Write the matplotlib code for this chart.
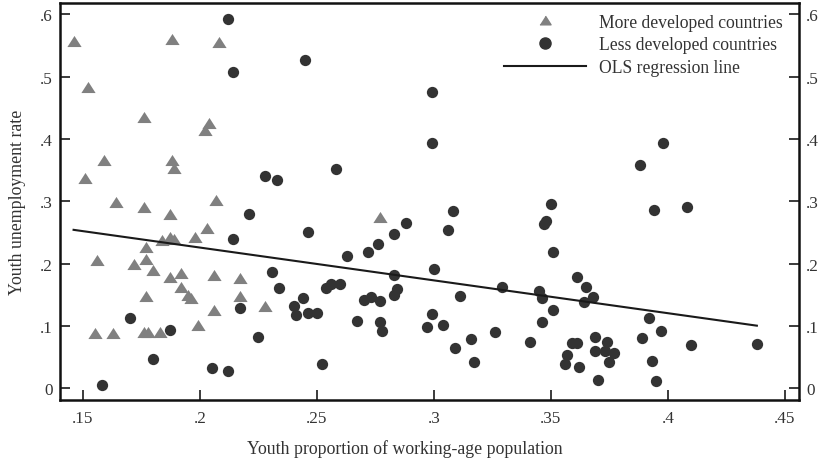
import numpy as np
import matplotlib.pyplot as plt
from matplotlib.lines import Line2D

# youth share of working-age population vs youth unemployment rate
dev_x = [0.146, 0.188, 0.152, 0.176, 0.204, 0.202, 0.159, 0.188, 0.189, 0.151,
         0.164, 0.176, 0.208, 0.207, 0.187, 0.184, 0.187, 0.189, 0.198, 0.203,
         0.177, 0.156, 0.172, 0.177, 0.180, 0.187, 0.192, 0.192, 0.195, 0.196,
         0.177, 0.206, 0.217, 0.217, 0.206, 0.228, 0.199, 0.155, 0.163, 0.176,
         0.178, 0.183, 0.277]
dev_y = [0.557, 0.561, 0.484, 0.436, 0.426, 0.415, 0.366, 0.366, 0.353, 0.338,
         0.298, 0.290, 0.555, 0.302, 0.279, 0.238, 0.243, 0.240, 0.243, 0.257,
         0.227, 0.205, 0.200, 0.208, 0.189, 0.179, 0.184, 0.162, 0.149, 0.144,
         0.148, 0.181, 0.176, 0.148, 0.125, 0.131, 0.102, 0.089, 0.089, 0.090,
         0.090, 0.090, 0.275]

ldc_x = [0.212, 0.245, 0.214, 0.228, 0.233, 0.258, 0.299, 0.299, 0.398, 0.388,
         0.394, 0.408, 0.308, 0.306, 0.350, 0.348, 0.347, 0.351, 0.170, 0.187,
         0.180, 0.158, 0.205, 0.212, 0.221, 0.214, 0.246, 0.288, 0.283, 0.276,
         0.272, 0.263, 0.283, 0.284, 0.283, 0.231, 0.234, 0.217, 0.225, 0.244,
         0.240, 0.241, 0.246, 0.250, 0.252, 0.254, 0.256, 0.260, 0.267, 0.270,
         0.273, 0.277, 0.277, 0.278, 0.300, 0.311, 0.329, 0.345, 0.346, 0.351,
         0.361, 0.365, 0.368, 0.364, 0.299, 0.297, 0.304, 0.309, 0.316, 0.317,
         0.326, 0.341, 0.346, 0.359, 0.361, 0.357, 0.356, 0.362, 0.369, 0.369,
         0.370, 0.374, 0.373, 0.377, 0.375, 0.392, 0.397, 0.389, 0.393, 0.395,
         0.410, 0.438]
ldc_y = [0.592, 0.526, 0.507, 0.340, 0.334, 0.351, 0.476, 0.393, 0.393, 0.358,
         0.286, 0.291, 0.284, 0.253, 0.296, 0.269, 0.263, 0.219, 0.112, 0.094,
         0.046, 0.005, 0.032, 0.027, 0.279, 0.240, 0.250, 0.265, 0.247, 0.232,
         0.219, 0.212, 0.181, 0.159, 0.150, 0.187, 0.161, 0.128, 0.082, 0.144,
         0.131, 0.117, 0.121, 0.121, 0.039, 0.160, 0.167, 0.167, 0.108, 0.141,
         0.147, 0.140, 0.106, 0.091, 0.191, 0.148, 0.163, 0.156, 0.144, 0.125,
         0.178, 0.163, 0.147, 0.138, 0.119, 0.098, 0.102, 0.064, 0.079, 0.042,
         0.090, 0.074, 0.106, 0.073, 0.072, 0.053, 0.039, 0.034, 0.082, 0.059,
         0.013, 0.074, 0.060, 0.056, 0.042, 0.112, 0.091, 0.080, 0.044, 0.011,
         0.069, 0.071]

# OLS fit over pooled sample
ols_intercept = 0.331
ols_slope = -0.527

xticks = [0.15, 0.2, 0.25, 0.3, 0.35, 0.4, 0.45]
xtick_labels = ['.15', '.2', '.25', '.3', '.35', '.4', '.45']
yticks = [0, 0.1, 0.2, 0.3, 0.4, 0.5, 0.6]
ytick_labels = ['0', '.1', '.2', '.3', '.4', '.5', '.6']

plt.rcParams['font.family'] = ['Liberation Serif', 'DejaVu Serif']
txt = '#333333'

fig = plt.figure(figsize=(8.22, 4.64), dpi=100)
ax = fig.add_axes([0.073, 0.136, 0.899, 0.855])

tri = [(-1, -0.78), (1, -0.78), (0, 0.78)]
ax.scatter(dev_x, dev_y, marker=tri, s=105, color='#808080', linewidths=0, zorder=3)
ax.scatter(ldc_x, ldc_y, marker='o', s=66, color='#333333', linewidths=0, zorder=3)

all_x = np.array(dev_x + ldc_x)
xl = np.array([all_x.min(), all_x.max()])
ax.plot(xl, ols_intercept + ols_slope * xl, color='#1a1a1a', lw=1.5, zorder=4)

ax.set_xlim(0.1402, 0.456)
ax.set_ylim(-0.019, 0.618)
ax.set_xticks(xticks)
ax.set_xticklabels(xtick_labels)
ax.set_yticks(yticks)
ax.set_yticklabels(ytick_labels)
ax.tick_params(axis='both', direction='in', length=7, width=1.2, colors='#1a1a1a',
               labelcolor=txt, labelsize=12.3)
ax.tick_params(axis='y', right=True, labelright=True, pad=5)
ax.tick_params(axis='x', pad=7)
for s in ax.spines.values():
    s.set_linewidth(1.8)
    s.set_color('#111111')

ax.set_xlabel('Youth proportion of working-age population', fontsize=12.8, color=txt)
ax.xaxis.set_label_coords((404.5 - 60) / 739, -39 / 397)
ax.set_ylabel('Youth unemployment rate', fontsize=12.8, color=txt, labelpad=10)

handles = [
    Line2D([], [], marker=tri, ls='none', color='#808080', markersize=8),
    Line2D([], [], marker='o', ls='none', color='#333333', markersize=8),
    Line2D([], [], color='#1a1a1a', lw=1.5),
]
labels = ['More developed countries', 'Less developed countries', 'OLS regression line']
leg = fig.legend(handles, labels, loc='upper right', bbox_to_anchor=(783 / 822, 1 - 14.5 / 464),
                 frameon=False, fontsize=12.7, handlelength=4.65, handletextpad=0.74,
                 labelspacing=0.32, borderpad=0, borderaxespad=0)
for t in leg.get_texts():
    t.set_color(txt)

fig.savefig('out.png', dpi=100)
